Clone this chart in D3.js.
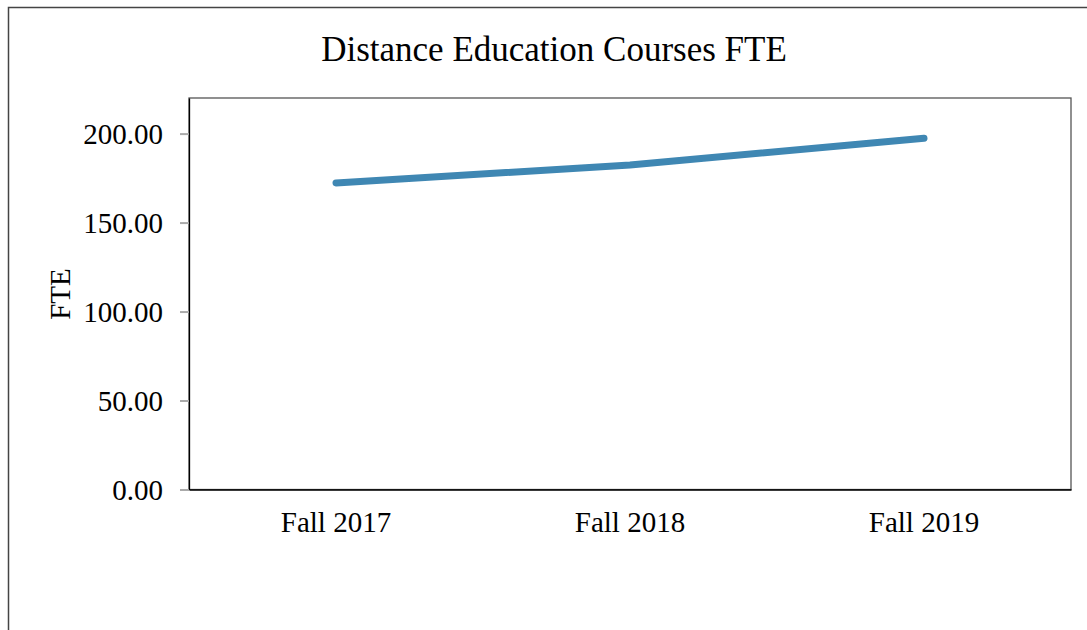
<!DOCTYPE html>
<html><head><meta charset="utf-8">
<script src="https://cdn.jsdelivr.net/npm/d3@7"></script>
<style>body{margin:0;background:#fff}svg{display:block}text{font-family:"Liberation Serif","Times New Roman",serif;fill:#000}</style>
</head><body><svg id="c" width="1087" height="630"></svg>
<script>
const categories = ["Fall 2017","Fall 2018","Fall 2019"];
const fteValues = [172.3, 182.3, 197.4];
const yTicks = [0, 50, 100, 150, 200];
const title = "Distance Education Courses FTE";
const yLabel = "FTE";

const svg = d3.select("#c");
const m = {l:189, r:1071, t:98, b:489.5};
svg.append("rect").attr("x",8.5).attr("y",7.5).attr("width",1100).attr("height",700)
  .attr("fill","none").attr("stroke","#444").attr("stroke-width",1.5);

const x = d3.scaleBand().domain(categories).range([m.l, m.r]);
const y = d3.scaleLinear().domain([0,220]).range([m.b, m.t]);

svg.append("rect").attr("x",m.l).attr("y",m.t).attr("width",m.r-m.l).attr("height",m.b-m.t)
  .attr("fill","none").attr("stroke","#555").attr("stroke-width",1.3);

const ya = svg.append("g").attr("transform",`translate(${m.l},0)`)
  .call(d3.axisLeft(y).tickValues(yTicks).tickFormat(d3.format(".2f")).tickSizeInner(9).tickSizeOuter(0).tickPadding(17));
ya.select(".domain").attr("stroke","#000").attr("stroke-width",1.3);
ya.selectAll(".tick line").attr("stroke","#aaa").attr("stroke-width",2);
ya.selectAll(".tick text").style("font-size","29px").attr("dy","0.33em");

const xa = svg.append("g").attr("transform",`translate(0,${m.b})`)
  .call(d3.axisBottom(x).tickSize(0).tickPadding(22));
xa.select(".domain").attr("stroke","#000").attr("stroke-width",1.3);
xa.selectAll(".tick text").style("font-size","29px");

const line = d3.line().x(d=>x(d.c)+x.bandwidth()/2).y(d=>y(d.v)).curve(d3.curveLinear);
svg.append("path").datum(categories.map((c,i)=>({c,v:fteValues[i]})))
  .attr("d",line).attr("fill","none").attr("stroke","#3f87b3").attr("stroke-width",7)
  .attr("stroke-linecap","round").attr("stroke-linejoin","round");

svg.append("text").attr("x",554).attr("y",61).attr("text-anchor","middle").style("font-size","35px").text(title);
svg.append("text").attr("transform","translate(70,294) rotate(-90)").attr("text-anchor","middle")
  .style("font-size","29px").text(yLabel);
</script></body></html>
